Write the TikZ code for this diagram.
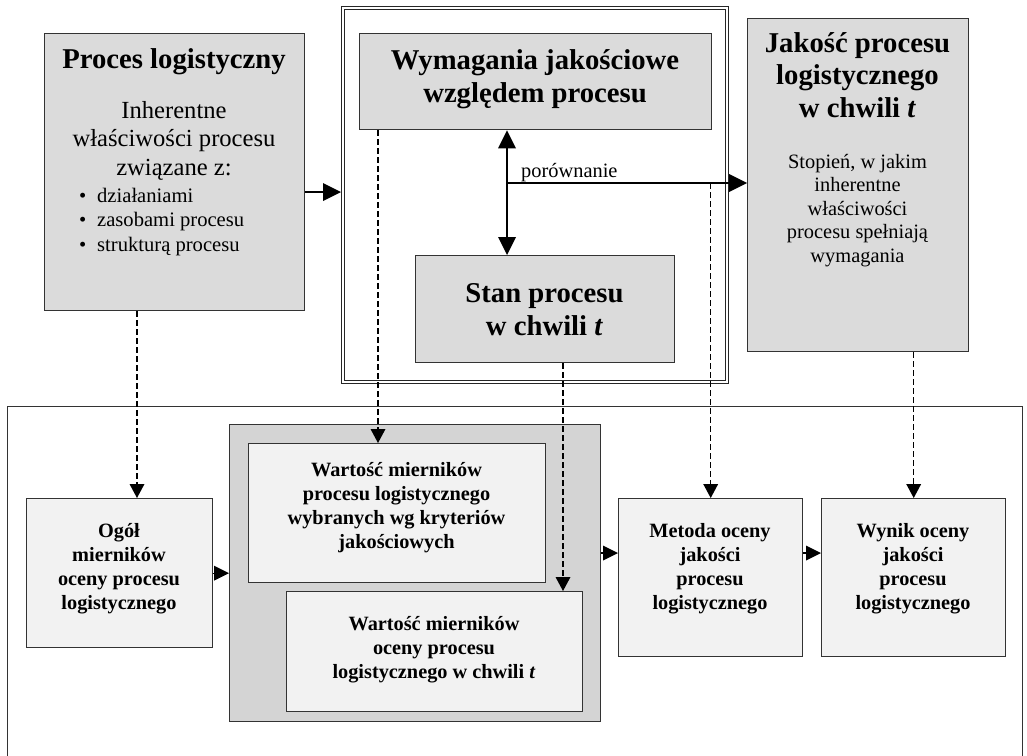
\documentclass[tikz,border=0pt]{standalone}
\usepackage{fontspec}
\setmainfont{Liberation Serif}
\usetikzlibrary{arrows.meta,calc}
\newcommand\bigtitle{\fontsize{28.7}{32.5}\selectfont\bfseries}
\newcommand\bodytext{\fontsize{24.6}{28.5}\selectfont}
\newcommand\itemtext{\fontsize{20.6}{24.5}\selectfont}
\newcommand\smalltext{\fontsize{20.4}{23.4}\selectfont}
\newcommand\boxtext{\fontsize{20.3}{23.7}\selectfont\bfseries}
\definecolor{topgray}{gray}{0.86}
\definecolor{midgray}{gray}{0.83}
\definecolor{boxlight}{gray}{0.95}
\tikzset{
  topbox/.style={draw=black!80, line width=1.4pt, fill=topgray, anchor=north west, inner sep=0pt},
  lowbox/.style={draw=black!80, line width=1.4pt, fill=boxlight, anchor=north west, inner sep=0pt},
  txt/.style={inner sep=0pt, anchor=base, align=center},
  bigarrow/.style={line width=2.6pt, -{Triangle[length=18pt,width=18pt,line width=0pt]}},
  dblarrow/.style={line width=2.6pt, {Triangle[length=18pt,width=18pt,line width=0pt]}-{Triangle[length=18pt,width=18pt,line width=0pt]}},
  dasharrow/.style={line width=1.3pt, dash pattern=on 6pt off 3pt, -{Triangle[length=14pt,width=15pt,line width=0pt]}},
  smallarrow/.style={line width=1.4pt, -{Triangle[length=15pt,width=15pt,line width=0pt]}},
}
\begin{document}
\begin{tikzpicture}[x=1pt,y=-1pt]
  %%%%% TOP PART %%%%%
  \useasboundingbox (0,0) rectangle (1027,755);

  \draw[line width=1pt, black!80] (7,756) -- (7,406) -- (1022,406) -- (1022,756);

  % text nodes sit on the baseline of their last line
  \node[topbox, minimum width=260pt, minimum height=277pt] (proc) at (44,33) {};
  \node[txt, font=\bigtitle] (proct) at (174,68) {Proces logistyczny};
  \node[txt, font=\bodytext] (procb) at (174,175) {Inherentne\\właściwości procesu\\związane z:};
  \node[txt, anchor=base west, align=left, font=\itemtext] (procl) at (79,251)
    {\makebox[18pt][l]{\textbullet}działaniami\\\makebox[18pt][l]{\textbullet}zasobami procesu\\\makebox[18pt][l]{\textbullet}strukturą procesu};

  \node[draw=black!85, double, double distance=2pt, line width=1.1pt, anchor=north west,
        outer sep=2.2pt, inner sep=0pt, minimum width=384pt, minimum height=374pt] (frame) at (341,6) {};

  \node[topbox, minimum width=352pt, minimum height=96pt] (wym) at (359,33) {};
  \node[txt, font=\bigtitle] (wymt) at (535,102) {Wymagania jakościowe\\względem procesu};

  \node[topbox, minimum width=259pt, minimum height=107pt] (stan) at (415,255) {};
  \node[txt, font=\bigtitle] (stant) at (544.5,335) {Stan procesu\\w chwili \textit{t}};

  \node[topbox, minimum width=221pt, minimum height=333pt] (jak) at (747,18) {};
  \node[txt, font=\bigtitle] (jakt) at (857.5,117) {Jakość procesu\\logistycznego\\w chwili \textit{t}};
  \node[txt, font=\smalltext] (jakb) at (857.5,262)
    {Stopień, w jakim\\inherentne\\właściwości\\procesu spełniają\\wymagania};

  %%%%% BOTTOM PART %%%%%
  \node[draw=black!80, line width=1.4pt, fill=midgray, anchor=north west, inner sep=0pt,
        minimum width=371pt, minimum height=297pt] (cont) at (229,424) {};
  \node[lowbox, minimum width=297pt, minimum height=139pt] (in1) at (248,443) {};
  \node[txt, font=\boxtext] (in1t) at (396.5,548)
    {Wartość mierników\\procesu logistycznego\\wybranych wg kryteriów\\jakościowych};
  \node[lowbox, minimum width=296pt, minimum height=120pt] (in2) at (286,591) {};
  \node[txt, font=\boxtext] (in2t) at (434,678)
    {Wartość mierników\\oceny procesu\\logistycznego w chwili \textit{t}};

  \node[lowbox, minimum width=186pt, minimum height=149pt] (ogol) at (26,498) {};
  \node[txt, font=\boxtext] (ogolt) at (119,609) {Ogół\\mierników\\oceny procesu\\logistycznego};
  \node[lowbox, minimum width=184pt, minimum height=158pt] (meto) at (618,498) {};
  \node[txt, font=\boxtext] (metot) at (710,609) {Metoda oceny\\jakości\\procesu\\logistycznego};
  \node[lowbox, minimum width=184pt, minimum height=158pt] (wyn) at (821,498) {};
  \node[txt, font=\boxtext] (wynt) at (913,609) {Wynik oceny\\jakości\\procesu\\logistycznego};

  %%%%% ARROWS %%%%%
  \coordinate (cmp) at (507,183);
  \coordinate (pin) at (304,192);
  \coordinate (mid) at (0,553);
  \coordinate (d1) at (137,0);
  \coordinate (d2) at (378,0);
  \coordinate (d3) at (563,0);

  \draw[bigarrow] (proc.east |- pin) -- (frame.west |- pin);
  \draw[dblarrow] (cmp |- wym.south) -- (cmp |- stan.north);
  \draw[bigarrow] (cmp) -- (cmp -| jak.west);
  \node[txt, anchor=base west, font=\smalltext] (porl) at (521,177) {porównanie};

  \draw[dasharrow] (proc.south -| d1) -- (ogol.north -| d1);
  \draw[dasharrow] (wym.south -| d2) -- (in1.north -| d2);
  \draw[dasharrow] (stan.south -| d3) -- (in2.north -| d3);
  \draw[dasharrow] (meto.north |- cmp) -- (meto.north);
  \draw[dasharrow] (wyn.north |- jak.south) -- (wyn.north);

  \draw[smallarrow] (ogol.east) -- (ogol.east -| cont.west);
  \draw[smallarrow] (cont.east |- mid) -- (meto.west |- mid);
  \draw[smallarrow] (meto.east |- mid) -- (wyn.west |- mid);
\end{tikzpicture}
\end{document}
